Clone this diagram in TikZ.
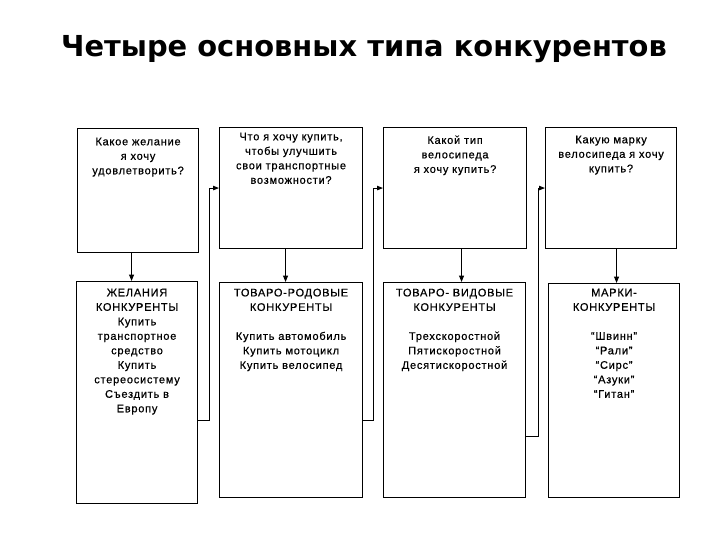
\documentclass[tikz,border=0pt]{standalone}
\usepackage{fontspec}
\setmainfont{Liberation Sans}
\newfontfamily\boxfont{Liberation Sans}[LetterSpace=7,FakeBold=0.6]
\newfontfamily\titlefont{DejaVu Sans}
\usetikzlibrary{arrows.meta}
\begin{document}
\begin{tikzpicture}[x=1pt,y=-1pt,
  box/.style={draw, line width=1.1pt, inner sep=0pt, anchor=north west},
  txt/.style={anchor=north, inner sep=0pt, align=center,
    font=\boxfont\fontsize{11}{14.5}\selectfont},
  varr/.style={line width=1.1pt, -{Triangle[length=6.5pt,width=5pt]}},
  carr/.style={line width=0.9pt, -{Triangle[length=6pt,width=4.5pt]}},
  ttl/.style={inner sep=0pt, font=\titlefont\bfseries\fontsize{28.9}{32}\selectfont}]
\useasboundingbox[fill=white] (0,0) rectangle (720,540);
\node[ttl] (title) at (364,49) {Четыре основных типа конкурентов};
% top row
\node[box, minimum width=121pt, minimum height=124pt] (t1) at (77,128) {};
\node[box, minimum width=143pt, minimum height=121pt] (t2) at (219,127) {};
\node[box, minimum width=143pt, minimum height=121pt] (t3) at (383,127) {};
\node[box, minimum width=131pt, minimum height=121pt] (t4) at (545,127) {};
% bottom row
\node[box, minimum width=121pt, minimum height=222pt] (b1) at (76,281) {};
\node[box, minimum width=143pt, minimum height=215pt] (b2) at (219,282) {};
\node[box, minimum width=142pt, minimum height=215pt] (b3) at (383,282) {};
\node[box, minimum width=131pt, minimum height=214pt] (b4) at (548,283) {};
% texts
\node[txt] (q1) at ([yshift=-9.5pt]t1.north) {Какое желание\\я хочу\\удовлетворить?};
\node[txt] (q2) at ([yshift=-5.5pt]t2.north) {Что я хочу купить,\\чтобы улучшить\\свои транспортные\\возможности?};
\node[txt] (q3) at ([yshift=-8.5pt]t3.north) {Какой тип\\велосипеда\\я хочу купить?};
\node[txt] (q4) at ([yshift=-8.5pt]t4.north) {Какую марку\\велосипеда я хочу\\купить?};
\node[txt] (a1) at ([yshift=-7.5pt]b1.north) {ЖЕЛАНИЯ\\КОНКУРЕНТЫ\\Купить\\транспортное\\средство\\Купить\\стереосистему\\Съездить в\\Европу};
\node[txt] (a2) at ([yshift=-6.5pt]b2.north) {ТОВАРО-РОДОВЫЕ\\КОНКУРЕНТЫ\\[14.5pt]Купить автомобиль\\Купить мотоцикл\\Купить велосипед};
\node[txt] (a3) at ([yshift=-6.5pt]b3.north) {ТОВАРО- ВИДОВЫЕ\\КОНКУРЕНТЫ\\[14.5pt]Трехскоростной\\Пятискоростной\\Десятискоростной};
\node[txt] (a4) at ([yshift=-5.5pt]b4.north) {МАРКИ-\\КОНКУРЕНТЫ\\[14.5pt]“Швинн”\\“Рали”\\“Сирс”\\“Азуки”\\“Гитан”};
% vertical arrows
\draw[varr] ([xshift=-6.5pt]t1.south) -- ([xshift=-6.5pt]t1.south |- b1.north);
\draw[varr] ([xshift=-5.5pt]t2.south) -- ([xshift=-5.5pt]t2.south |- b2.north);
\draw[varr] ([xshift=6.5pt]t3.south) -- ([xshift=6.5pt]t3.south |- b3.north);
\draw[varr] ([xshift=5.5pt]t4.south) -- ([xshift=5.5pt]t4.south |- b4.north);
% feedback connectors
\draw[carr] ([yshift=-28pt]b1.east) -- ++(11,0) |- (t2.west);
\draw[carr] ([yshift=-30.5pt]b2.east) -- ++(10,0) |- (t3.west);
\draw[carr] ([yshift=-46.5pt]b3.east) -- ++(12,0) |- (t4.west);
\end{tikzpicture}
\end{document}
